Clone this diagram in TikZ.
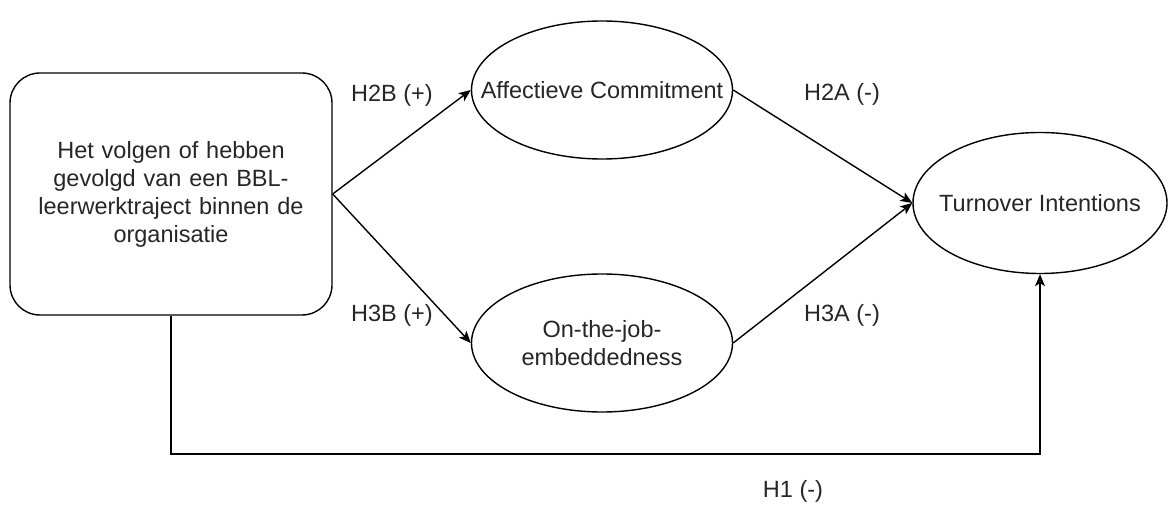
\documentclass[tikz,border=0pt]{standalone}
\usepackage{fontspec}
\setmainfont{Liberation Sans}
\usetikzlibrary{arrows.meta,shapes.geometric}
\begin{document}
\begin{tikzpicture}[x=1pt,y=-1pt,
  every node/.style={font=\fontsize{23.5}{28}\selectfont, text=black!85},
  box/.style={draw, line width=1.4pt, rounded corners=30pt, minimum width=322pt, minimum height=242pt, align=center, text width=300pt, inner sep=0pt},
  ell/.style={draw, ellipse, line width=1.4pt, minimum width=261pt, minimum height=138pt, inner sep=0pt},
  txt/.style={align=center, inner sep=0pt},
  conn/.style={line width=1.4pt, -{Stealth[length=12pt,width=10pt,inset=3pt]}},
  lbl/.style={inner sep=0pt}]
\useasboundingbox (0,0) rectangle (1168,505);
\node[box] (src) at (171,194) {Het volgen of hebben\\gevolgd van een BBL-\\leerwerktraject binnen de\\organisatie};
\node[ell] (aff) at (602,90) {};
\node[txt] (afft) at (aff.center) {Affectieve Commitment};
\node[ell] (emb) at (602,343) {};
\node[txt] (embt) at (emb.center) {On-the-job-\\embeddedness};
\node[ell, minimum width=254pt, minimum height=141pt] (turn) at (1040,203) {};
\node[txt] (turnt) at (turn.center) {Turnover Intentions};
\coordinate (bend) at (1040,454);
\draw[conn] (src.east) -- (aff.west);
\draw[conn] (src.east) -- (emb.west);
\draw[conn] (aff.east) -- (turn.west);
\draw[conn] (emb.east) -- (turn.west);
\draw[conn] (src.south) |- (bend) -- (turn.south);
\node[lbl] (l2b) at (392,95) {H2B (+)};
\node[lbl] (l3b) at (392,315) {H3B (+)};
\node[lbl] (l2a) at (842,94) {H2A (-)};
\node[lbl] (l3a) at (842,315) {H3A (-)};
\node[lbl] (l1) at (793,491) {H1 (-)};
\end{tikzpicture}
\end{document}
